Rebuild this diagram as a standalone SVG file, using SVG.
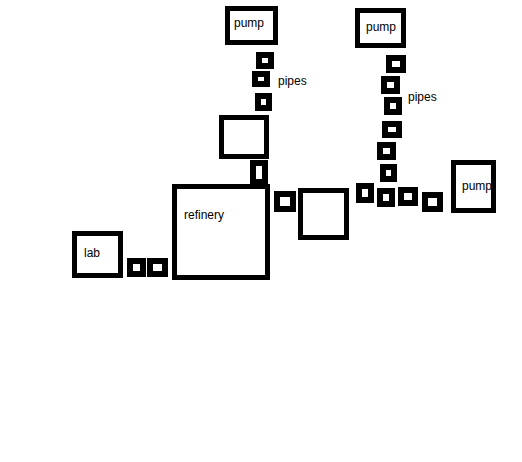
<svg xmlns="http://www.w3.org/2000/svg" width="522" height="462" viewBox="0 0 522 462">
<style>
rect.n{fill:#fff;stroke:#000;stroke-width:5}
rect.p{fill:#fff;stroke:#000;stroke-width:6}
text{font-family:"Liberation Sans",Arial,sans-serif;font-size:12px;fill:#000}
</style>
<defs>
<clipPath id="clip3"><rect x="456" y="165" width="35" height="43"/></clipPath>
</defs>
<rect width="522" height="462" fill="#fff"/>
<g id="connectors"></g>
<g id="refinery"><rect class="n" x="174.5" y="186.5" width="93" height="91"/><text x="184" y="219">refinery</text></g>
<g id="pump1"><rect class="n" x="227.5" y="8.5" width="48" height="34"/><text x="234" y="27">pump</text></g>
<g id="pipeA1"><rect class="p" x="259" y="55" width="12" height="11"/></g>
<g id="pipeA2"><rect class="p" x="255" y="74" width="12" height="10"/></g>
<g id="pipeA3"><rect class="p" x="258" y="96" width="11" height="12"/></g>
<g id="pipesLabel1"><text x="278" y="85">pipes</text></g>
<g id="tank1"><rect class="n" x="221.5" y="117.5" width="45" height="39"/></g>
<g id="pipeA4"><rect class="p" x="253" y="163" width="12" height="19"/></g>
<g id="lab"><rect class="n" x="74.5" y="233.5" width="46" height="42"/><text x="84" y="257">lab</text></g>
<g id="pipeL1"><rect class="p" x="130" y="261" width="13" height="13"/></g>
<g id="pipeL2"><rect class="p" x="150" y="261" width="15" height="13"/></g>
<g id="pipeR1"><rect class="p" x="277" y="194" width="16" height="15"/></g>
<g id="tank2"><rect class="n" x="300.5" y="190.5" width="46" height="47"/></g>
<g id="pump2"><rect class="n" x="357.5" y="10.5" width="46" height="35"/><text x="366" y="31">pump</text></g>
<g id="pipesLabel2"><text x="408" y="101">pipes</text></g>
<g id="pipeB1"><rect class="p" x="389" y="58" width="14" height="12"/></g>
<g id="pipeB2"><rect class="p" x="384" y="79" width="13" height="12"/></g>
<g id="pipeB3"><rect class="p" x="387" y="100" width="12" height="12"/></g>
<g id="pipeB4"><rect class="p" x="385" y="124" width="14" height="11"/></g>
<g id="pipeB5"><rect class="p" x="380" y="145" width="13" height="12"/></g>
<g id="pipeB6"><rect class="p" x="383" y="167" width="11" height="12"/></g>
<g id="pipeB7"><rect class="p" x="359" y="186" width="12" height="14"/></g>
<g id="pipeB8"><rect class="p" x="380" y="191" width="12" height="13"/></g>
<g id="pipeB9"><rect class="p" x="401" y="190" width="14" height="13"/></g>
<g id="pipeB10"><rect class="p" x="425" y="195" width="15" height="14"/></g>
<g id="pump3"><rect class="n" x="453.5" y="162.5" width="40" height="48"/><text x="462" y="190" clip-path="url(#clip3)">pump</text></g>
</svg>
